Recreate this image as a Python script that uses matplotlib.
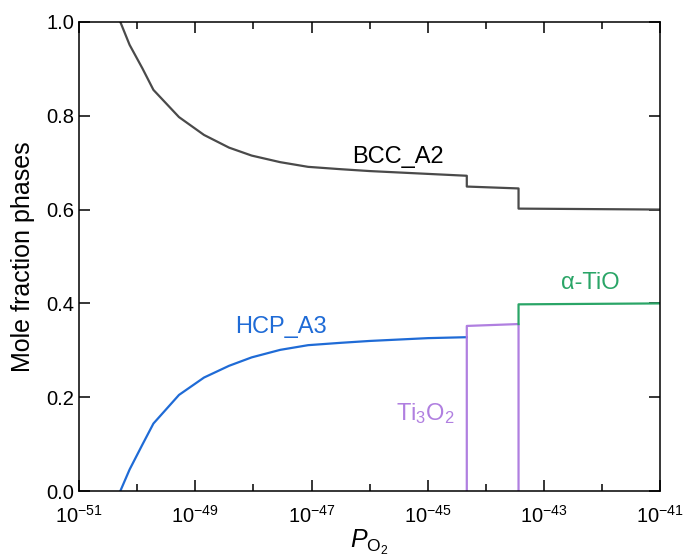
import numpy as np
import matplotlib
matplotlib.use("Agg")
import matplotlib.pyplot as plt
from matplotlib.ticker import FixedLocator, LogFormatterSciNotation, NullFormatter

plt.rcParams['font.family'] = ['Liberation Sans', 'DejaVu Sans']
plt.rcParams['mathtext.fontset'] = 'custom'
plt.rcParams['mathtext.rm'] = 'Liberation Sans'
plt.rcParams['mathtext.it'] = 'Liberation Sans:italic'

# log10(P_O2) grid of the smooth part
log_po2 = [-50.29, -50.13, -49.91, -49.72, -49.28, -48.85, -48.42, -48.03,
           -47.54, -47.06, -46.5, -46.0, -45.5, -45.0, -44.33]
bcc_smooth = [1.0, 0.951, 0.901, 0.855, 0.797, 0.759, 0.732, 0.715,
              0.701, 0.691, 0.686, 0.682, 0.679, 0.676, 0.672]
hcp_smooth = [0.0, 0.046, 0.099, 0.144, 0.205, 0.242, 0.267, 0.285,
              0.301, 0.311, 0.316, 0.320, 0.323, 0.326, 0.328]

# stepped part
bcc_step_x = [-44.33, -44.33, -43.44, -43.44, -41.0]
bcc_step_y = [0.672, 0.649, 0.645, 0.602, 0.600]
ti3o2_x = [-44.33, -44.33, -43.44, -43.44]
ti3o2_y = [0.0, 0.352, 0.356, 0.0]
tio_x = [-43.44, -43.44, -41.0]
tio_y = [0.356, 0.398, 0.400]

fig = plt.figure(figsize=(6.84, 5.6), dpi=100)
ax = fig.add_axes([0.1155, 0.123, 0.850, 0.838])

bcc_x = np.power(10.0, log_po2 + bcc_step_x)
bcc_y = bcc_smooth + bcc_step_y
ax.plot(bcc_x, bcc_y, color='#4a4a4a', lw=1.6)
ax.plot(np.power(10.0, log_po2), hcp_smooth, color='#1f6bd6', lw=1.6)
ax.plot(np.power(10.0, ti3o2_x), ti3o2_y, color='#b07fe0', lw=1.6)
ax.plot(np.power(10.0, tio_x), tio_y, color='#2aa567', lw=1.6)

ax.set_xscale('log')
ax.set_xlim(1e-51, 1e-41)
ax.set_ylim(0, 1.0)

ax.xaxis.set_major_locator(FixedLocator([10.0**e for e in range(-51, -40, 2)]))
ax.xaxis.set_minor_locator(FixedLocator([10.0**e for e in range(-50, -41, 2)]))
ax.xaxis.set_major_formatter(LogFormatterSciNotation())
ax.xaxis.set_minor_formatter(NullFormatter())
ax.set_yticks([0.0, 0.2, 0.4, 0.6, 0.8, 1.0])
ax.set_yticklabels(['0.0', '0.2', '0.4', '0.6', '0.8', '1.0'])

ax.tick_params(which='both', direction='in', top=True, right=True, labelsize=14.5, width=1.1)
ax.tick_params(which='major', length=8)
ax.tick_params(which='minor', length=5)
ax.tick_params(axis='x', pad=10)
for s in ax.spines.values():
    s.set_linewidth(1.1)

ax.set_ylabel('Mole fraction phases', fontsize=18, labelpad=8)
ax.set_xlabel(r'$P_{\mathrm{O}_2}$', fontsize=18, labelpad=1)

ax.text(10**-45.52, 0.712, 'BCC_A2', color='black', fontsize=17, ha='center', va='center')
ax.text(10**-47.52, 0.350, 'HCP_A3', color='#1f6bd6', fontsize=17, ha='center', va='center')
ax.text(10**-45.05, 0.165, r'Ti$_3$O$_2$', color='#b07fe0', fontsize=17, ha='center', va='center')
ax.text(10**-42.2, 0.443, 'α-TiO', color='#2aa567', fontsize=17, ha='center', va='center')

fig.savefig('out.png', dpi=100)
